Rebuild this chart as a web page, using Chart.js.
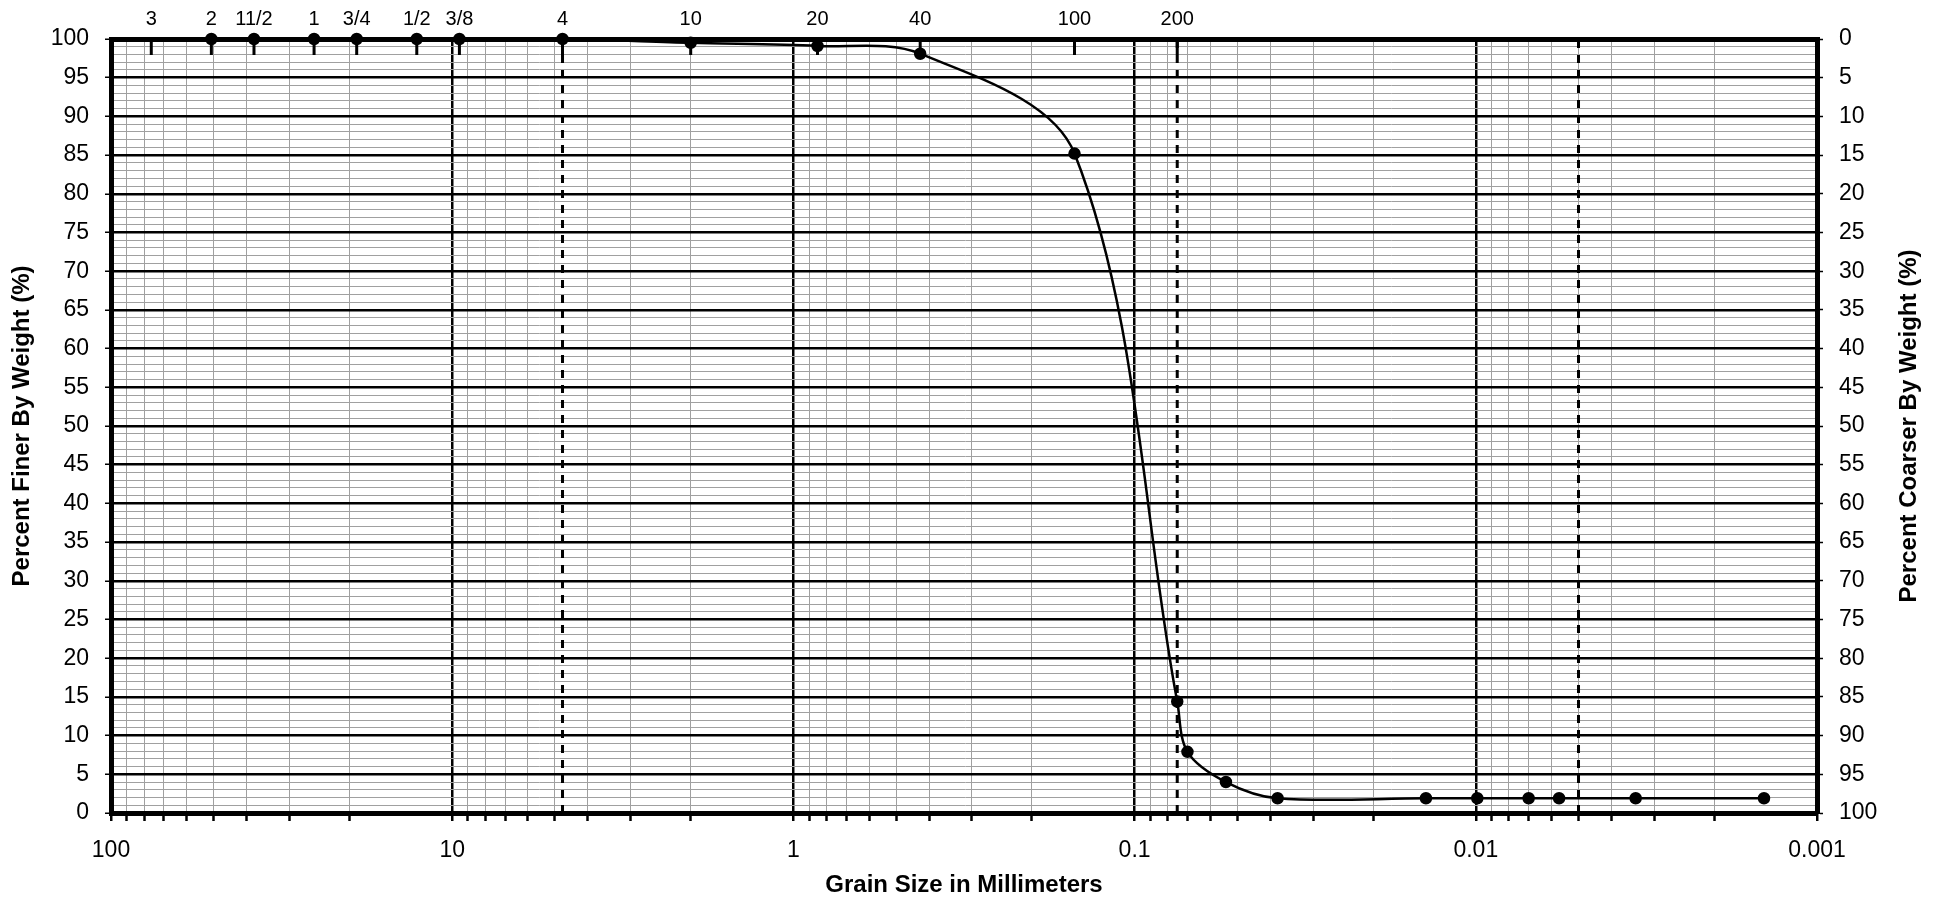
<!DOCTYPE html>
<html>
<head>
<meta charset="utf-8">
<script src="https://cdn.jsdelivr.net/npm/chart.js@4.4.1/dist/chart.umd.min.js"></script>
<style>
  html, body { margin: 0; padding: 0; background: #fff; }
  #wrap { width: 1935px; height: 907px; }
</style>
</head>
<body>
<div id="wrap"><canvas id="gradation" width="1935" height="907"></canvas></div>
<script>
// sieve sizes along the top (mm) and their labels
const sieveSizes = [76.2, 50.8, 38.1, 25.4, 19.05, 12.7, 9.525, 4.75, 2.0, 0.85, 0.425, 0.15, 0.075];
const sieveLabels = ['3', '2', '11/2', '1', '3/4', '1/2', '3/8', '4', '10', '20', '40', '100', '200'];

// measured gradation
const grainSizes = [50.8, 38.1, 25.4, 19.05, 12.7, 9.525, 4.75, 2.0, 0.85, 0.425, 0.15, 0.075,
                    0.070, 0.054, 0.0381, 0.0140, 0.0099, 0.0070, 0.0057, 0.0034, 0.00143];
const percentFiner = [100, 100, 100, 100, 100, 100, 100, 99.5, 99.1, 98.1, 85.2, 14.4,
                      7.9, 4.0, 1.9, 1.9, 1.9, 1.9, 1.9, 1.9, 1.9];

// bottom axis decades
const decadeValues = [100, 10, 1, 0.1, 0.01, 0.001];
const decadeLabels = ['100', '10', '1', '0.1', '0.01', '0.001'];

// dashed boundary lines (gravel/sand, sand/fines, silt/clay)
const boundarySizes = [4.75, 0.075, 0.005];

const FONT = '"Liberation Sans", Arial, sans-serif';

function isDecade(v) {
  const l = Math.log10(v);
  return Math.abs(l - Math.round(l)) < 1e-6;
}

const curve = grainSizes.map((d, i) => ({ x: d, y: percentFiner[i] }));

const boundaryDatasets = boundarySizes.map(b => ({
  data: [{ x: b, y: 0 }, { x: b, y: 100 }],
  showLine: true,
  borderColor: '#000',
  borderWidth: 3,
  borderDash: [8, 7],
  pointRadius: 0,
  tension: 0
}));

const extras = {
  id: 'extras',
  beforeDatasetsDraw(chart) {
    const { ctx, chartArea, scales } = chart;
    ctx.save();
    ctx.strokeStyle = '#000';
    ctx.lineWidth = 3;
    sieveSizes.forEach(s => {
      const x = scales.x2.getPixelForValue(s);
      ctx.beginPath();
      ctx.moveTo(x, chartArea.top);
      ctx.lineTo(x, chartArea.top + 16);
      ctx.stroke();
    });
    ctx.restore();
  },
  afterDraw(chart) {
    // right title reads bottom to top like the left one
    const { ctx, chartArea } = chart;
    ctx.save();
    ctx.translate(1909, (chartArea.top + chartArea.bottom) / 2);
    ctx.rotate(-Math.PI / 2);
    ctx.font = 'bold 24px ' + FONT;
    ctx.fillStyle = '#000';
    ctx.textAlign = 'center';
    ctx.textBaseline = 'middle';
    ctx.fillText('Percent Coarser By Weight (%)', 0, 0);
    ctx.restore();
  }
};

const ctx = document.getElementById('gradation').getContext('2d');
new Chart(ctx, {
  type: 'scatter',
  data: {
    datasets: [
      {
        data: curve,
        showLine: true,
        borderColor: '#000',
        borderWidth: 2.5,
        backgroundColor: '#000',
        pointRadius: 5,
        pointBackgroundColor: '#000',
        tension: 0.33,
        clip: false
      },
      ...boundaryDatasets
    ]
  },
  options: {
    responsive: false,
    animation: false,
    layout: { padding: 0 },
    plugins: {
      legend: { display: false },
      tooltip: { enabled: false }
    },
    scales: {
      x: {
        type: 'logarithmic',
        position: 'bottom',
        min: 0.001,
        max: 100,
        reverse: true,
        afterFit(s) { s.height = 94; },
        afterBuildTicks(s) {
          const t = [];
          for (let e = -3; e <= 1; e++) {
            for (let m = 1; m <= 9; m++) t.push({ value: parseFloat((m * Math.pow(10, e)).toPrecision(6)) });
          }
          t.push({ value: 100 });
          s.ticks = t;
        },
        grid: {
          color: c => isDecade(c.tick.value) ? '#000' : '#a0a0a0',
          lineWidth: c => isDecade(c.tick.value) ? 2.5 : 1,
          tickColor: '#000',
          tickWidth: 2.5,
          tickLength: 8
        },
        border: { display: true, color: '#000', width: 5 },
        ticks: {
          autoSkip: false,
          maxRotation: 0,
          padding: 16,
          color: '#000',
          font: { family: FONT, size: 23 },
          callback: v => {
            const i = decadeValues.findIndex(d => Math.abs(d - v) < d * 1e-6);
            return i >= 0 ? decadeLabels[i] : '';
          }
        },
        title: {
          display: true,
          text: 'Grain Size in Millimeters',
          color: '#000',
          font: { family: FONT, size: 24, weight: 'bold' },
          padding: { top: 0, bottom: 7 }
        }
      },
      x2: {
        type: 'logarithmic',
        position: 'top',
        min: 0.001,
        max: 100,
        reverse: true,
        afterFit(s) { s.height = 39; },
        afterBuildTicks(s) {
          s.ticks = sieveSizes.map(v => ({ value: v }));
        },
        grid: { display: false, drawTicks: false },
        border: { display: true, color: '#000', width: 5 },
        ticks: {
          autoSkip: false,
          maxRotation: 0,
          padding: 8,
          color: '#000',
          font: { family: FONT, size: 20 },
          callback: (v, i) => sieveLabels[i]
        }
      },
      y: {
        type: 'linear',
        position: 'left',
        min: 0,
        max: 100,
        afterFit(s) { s.width = 111; },
        grid: {
          color: c => c.tick.value % 5 === 0 ? '#000' : '#a0a0a0',
          lineWidth: c => c.tick.value % 5 === 0 ? 2.5 : 1,
          tickColor: c => c.tick.value % 5 === 0 ? '#000' : 'rgba(0,0,0,0)',
          tickWidth: 1.5,
          tickLength: 6
        },
        border: { display: true, color: '#000', width: 5 },
        ticks: {
          stepSize: 1,
          maxTicksLimit: 200,
          autoSkip: false,
          padding: 16,
          color: '#000',
          font: { family: FONT, size: 23 },
          callback: v => v % 5 === 0 ? String(v) : ''
        },
        title: {
          display: true,
          text: 'Percent Finer By Weight (%)',
          color: '#000',
          font: { family: FONT, size: 24, weight: 'bold' },
          padding: { top: 8, bottom: 0 }
        }
      },
      y2: {
        type: 'linear',
        position: 'right',
        min: 0,
        max: 100,
        afterFit(s) { s.width = 118; },
        grid: {
          drawOnChartArea: false,
          tickColor: c => c.tick.value % 5 === 0 ? '#000' : 'rgba(0,0,0,0)',
          tickWidth: 1.5,
          tickLength: 6
        },
        border: { display: true, color: '#000', width: 5 },
        ticks: {
          stepSize: 1,
          maxTicksLimit: 200,
          autoSkip: false,
          padding: 16,
          color: '#000',
          font: { family: FONT, size: 23 },
          callback: v => v % 5 === 0 ? String(100 - v) : ''
        }
      }
    }
  },
  plugins: [extras]
});
</script>
</body>
</html>
